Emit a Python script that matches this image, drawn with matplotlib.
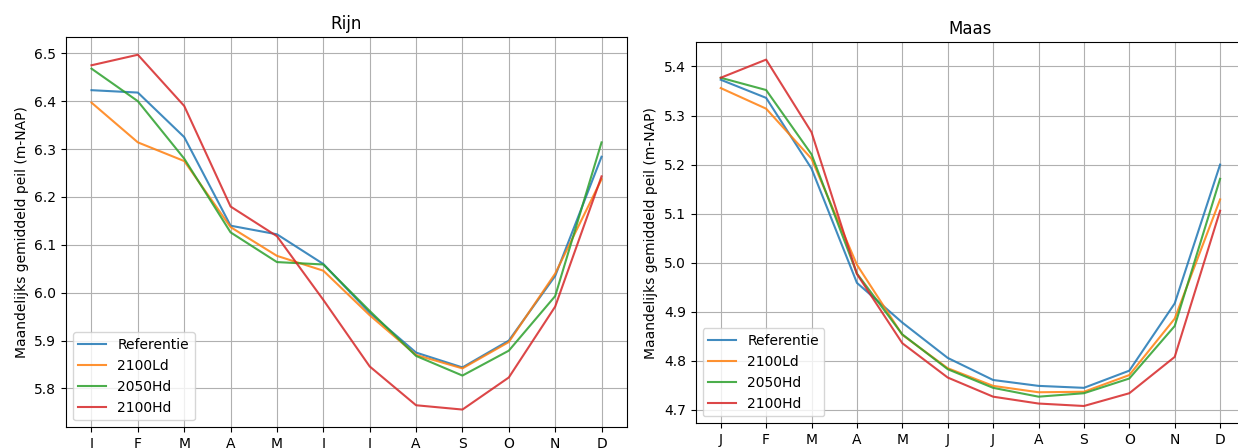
import matplotlib
matplotlib.use("Agg")
import matplotlib.pyplot as plt

maanden = ["J", "F", "M", "A", "M", "J", "J", "A", "S", "O", "N", "D"]
scenarios = ["Referentie", "2100Ld", "2050Hd", "2100Hd"]
kleuren = ["tab:blue", "tab:orange", "tab:green", "tab:red"]

# Rijn, maandgemiddeld peil (m+NAP)
rijn_ref = [6.423, 6.418, 6.325, 6.140, 6.122, 6.060, 5.958, 5.875, 5.844, 5.900, 6.035, 6.284]
rijn_2100ld = [6.397, 6.314, 6.275, 6.137, 6.077, 6.046, 5.953, 5.870, 5.842, 5.897, 6.040, 6.237]
rijn_2050hd = [6.468, 6.400, 6.280, 6.126, 6.064, 6.059, 5.962, 5.868, 5.827, 5.879, 5.993, 6.314]
rijn_2100hd = [6.475, 6.497, 6.390, 6.180, 6.118, 5.985, 5.846, 5.765, 5.756, 5.823, 5.971, 6.243]

# Maas
maas_ref = [5.373, 5.336, 5.192, 4.959, 4.878, 4.806, 4.761, 4.749, 4.745, 4.780, 4.917, 5.200]
maas_2100ld = [5.356, 5.314, 5.212, 4.996, 4.853, 4.785, 4.749, 4.736, 4.737, 4.771, 4.886, 5.129]
maas_2050hd = [5.377, 5.352, 5.221, 4.978, 4.854, 4.783, 4.745, 4.727, 4.734, 4.764, 4.871, 5.171]
maas_2100hd = [5.377, 5.414, 5.266, 4.977, 4.836, 4.766, 4.727, 4.713, 4.708, 4.734, 4.808, 5.106]

rijn = [rijn_ref, rijn_2100ld, rijn_2050hd, rijn_2100hd]
maas = [maas_ref, maas_2100ld, maas_2050hd, maas_2100hd]

fig = plt.figure(figsize=(12.38, 4.48), dpi=100)
ax1 = fig.add_axes([0.0533, 0.0462, 0.4532, 0.8712])
ax2 = fig.add_axes([0.5620, 0.0551, 0.4437, 0.8505])

for ax, reeksen, titel in [(ax1, rijn, "Rijn"), (ax2, maas, "Maas")]:
    x = range(len(maanden))
    for naam, kleur, waarden in zip(scenarios, kleuren, reeksen):
        ax.plot(x, waarden, color=kleur, label=naam, alpha=0.85)
    ax.set_xticks(list(x))
    ax.set_xticklabels(maanden)
    ax.set_title(titel)
    ax.set_ylabel("Maandelijks gemiddeld peil (m-NAP)")
    ax.grid(True)
    ax.legend(loc="lower left")

fig.savefig("out.png", dpi=100)
